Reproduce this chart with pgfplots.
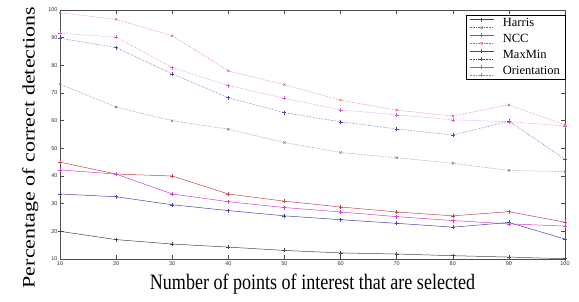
\documentclass[border=0pt]{standalone}
\usepackage{graphicx}
\usepackage{pgfplots}
\pgfplotsset{compat=1.18}
\usepackage{fontspec}
\setmainfont{Liberation Serif}
\setsansfont{Liberation Sans}
\usetikzlibrary{calc}
\definecolor{hcol}{HTML}{454545}
\definecolor{hcold}{HTML}{707070}
\definecolor{ncol}{HTML}{C84646}
\definecolor{ncold}{HTML}{D86060}
\definecolor{mcol}{HTML}{4646A8}
\definecolor{mcold}{HTML}{4848B0}
\definecolor{ocol}{HTML}{D040D0}
\definecolor{ocold}{HTML}{D860D8}
\begin{document}
\begin{tikzpicture}[x=1pt,y=1pt]
\begin{axis}[
  name=ax,
  scale only axis,
  width=505pt, height=249pt,
  xmin=10, xmax=100, ymin=10, ymax=100,
  xtick={10,20,...,100}, ytick={10,20,...,100},
  tick align=inside,
  major tick length=4pt,
  axis line style={color=black!70, line width=0.5pt},
  tick style={color=black!70, line width=0.4pt},
  ticklabel style={font=\fontsize{5.5}{6}\sffamily, color=black!80},
  /pgf/number format/assume math mode=true,
  xticklabel style={yshift=1pt},
  yticklabel style={xshift=1pt},
  xlabel={\scalebox{0.82}[1]{Number of points of interest that are selected}},
  ylabel={\scalebox{1}[0.8]{Percentage of correct detections}},
  label style={font=\fontsize{22}{23}\selectfont},
  xlabel style={yshift=-2pt},
  ylabel style={yshift=3pt, xshift=-13pt},
  legend cell align=left,
  legend style={at={(rel axis cs:1,0.98)}, anchor=north east,
    font=\fontsize{12.5}{13}\selectfont, inner xsep=3pt, inner ysep=1.5pt, row sep=2pt,
    /tikz/every odd column/.append style={column sep=7pt}},
  every axis plot/.append style={line width=0.5pt, mark size=2pt},
]
\addlegendimage{legend image code/.code={
  \begin{scope}[color=hcol]
  \draw[color=hcol,draw=hcol,solid,line width=0.6pt,mark=+,mark size=2pt,mark repeat=2,mark phase=2] plot coordinates {(0pt,4pt) (12pt,4pt) (24pt,4pt)};
  \end{scope}
  \begin{scope}[color=hcold]
  \draw[color=hcold,draw=hcold,densely dotted,line width=0.6pt,mark=x,mark size=1.5pt,mark options={solid},mark repeat=2,mark phase=2] plot coordinates {(0pt,-4pt) (12pt,-4pt) (24pt,-4pt)};
  \end{scope}}}
\addlegendentry{Harris}
\addlegendimage{legend image code/.code={
  \begin{scope}[color=ncol]
  \draw[color=ncol,draw=ncol,solid,line width=0.6pt,mark=+,mark size=2pt,mark repeat=2,mark phase=2] plot coordinates {(0pt,4pt) (12pt,4pt) (24pt,4pt)};
  \end{scope}
  \begin{scope}[color=ncold]
  \draw[color=ncold,draw=ncold,densely dotted,line width=0.6pt,mark=x,mark size=1.5pt,mark options={solid},mark repeat=2,mark phase=2] plot coordinates {(0pt,-4pt) (12pt,-4pt) (24pt,-4pt)};
  \end{scope}}}
\addlegendentry{NCC}
\addlegendimage{legend image code/.code={
  \begin{scope}[color=mcol]
  \draw[color=mcol,draw=mcol,solid,line width=0.6pt,mark=+,mark size=2pt,mark repeat=2,mark phase=2] plot coordinates {(0pt,4pt) (12pt,4pt) (24pt,4pt)};
  \end{scope}
  \begin{scope}[color=mcold]
  \draw[color=mcold,draw=mcold,densely dotted,line width=0.6pt,mark=+,mark size=2pt,mark options={solid},mark repeat=2,mark phase=2] plot coordinates {(0pt,-4pt) (12pt,-4pt) (24pt,-4pt)};
  \end{scope}}}
\addlegendentry{MaxMin}
\addlegendimage{legend image code/.code={
  \begin{scope}[color=ocol]
  \draw[color=ocol,draw=ocol,solid,line width=0.6pt,mark=+,mark size=2pt,mark repeat=2,mark phase=2] plot coordinates {(0pt,4pt) (12pt,4pt) (24pt,4pt)};
  \end{scope}
  \begin{scope}[color=ocold]
  \draw[color=ocold,draw=ocold,densely dotted,line width=0.6pt,mark=+,mark size=2pt,mark options={solid},mark repeat=2,mark phase=2] plot coordinates {(0pt,-4pt) (12pt,-4pt) (24pt,-4pt)};
  \end{scope}}}
\addlegendentry{Orientation}
% Harris solid
\addplot[forget plot, hcol, solid, mark=+] coordinates {(10,20) (20,17) (30,15.4) (40,14.3) (50,13.1) (60,12.2) (70,11.8) (80,11.2) (90,10.7) (100,10.1)};
% Harris dotted
\addplot[forget plot, hcold, densely dotted, mark=x, mark size=1.5pt, mark options={solid}] coordinates {(10,73.2) (20,64.9) (30,60) (40,56.9) (50,52.1) (60,48.5) (70,46.6) (80,44.6) (90,42) (100,41.6)};
% NCC solid
\addplot[forget plot, ncol, solid, mark=+] coordinates {(10,45) (20,40.7) (30,40) (40,33.5) (50,30.9) (60,28.8) (70,27) (80,25.6) (90,27.1) (100,23.3)};
% NCC dotted
\addplot[forget plot, ncold, densely dotted, mark=x, mark size=1.5pt, mark options={solid}] coordinates {(10,99) (20,96.6) (30,90.7) (40,78) (50,73) (60,67.4) (70,63.8) (80,61.7) (90,65.7) (100,58.5)};
% MaxMin solid
\addplot[forget plot, mcol, solid, mark=+] coordinates {(10,33.5) (20,32.5) (30,29.6) (40,27.5) (50,25.6) (60,24.2) (70,22.9) (80,21.5) (90,23.2) (100,17.2)};
% MaxMin dotted
\addplot[forget plot, mcold, densely dotted, mark=+, mark options={solid}] coordinates {(10,89.8) (20,86.4) (30,76.9) (40,68.3) (50,62.9) (60,59.6) (70,57) (80,54.8) (90,59.8) (100,46.1)};
% Orientation solid
\addplot[forget plot, ocol, solid, mark=+] coordinates {(10,42.2) (20,40.7) (30,33.5) (40,30.7) (50,28.6) (60,27) (70,25.3) (80,23.9) (90,22.7) (100,21.9)};
% Orientation dotted
\addplot[forget plot, ocold, densely dotted, mark=+, mark options={solid}] coordinates {(10,91.6) (20,90.2) (30,79.2) (40,72.7) (50,68.1) (60,63.9) (70,62.1) (80,60.3) (90,59.6) (100,58.1)};
\end{axis}
\pgfresetboundingbox
\path[use as bounding box] ($(ax.south west)+(-60pt,-43pt)$) rectangle ($(ax.north east)+(14pt,10pt)$);
\end{tikzpicture}
\end{document}
